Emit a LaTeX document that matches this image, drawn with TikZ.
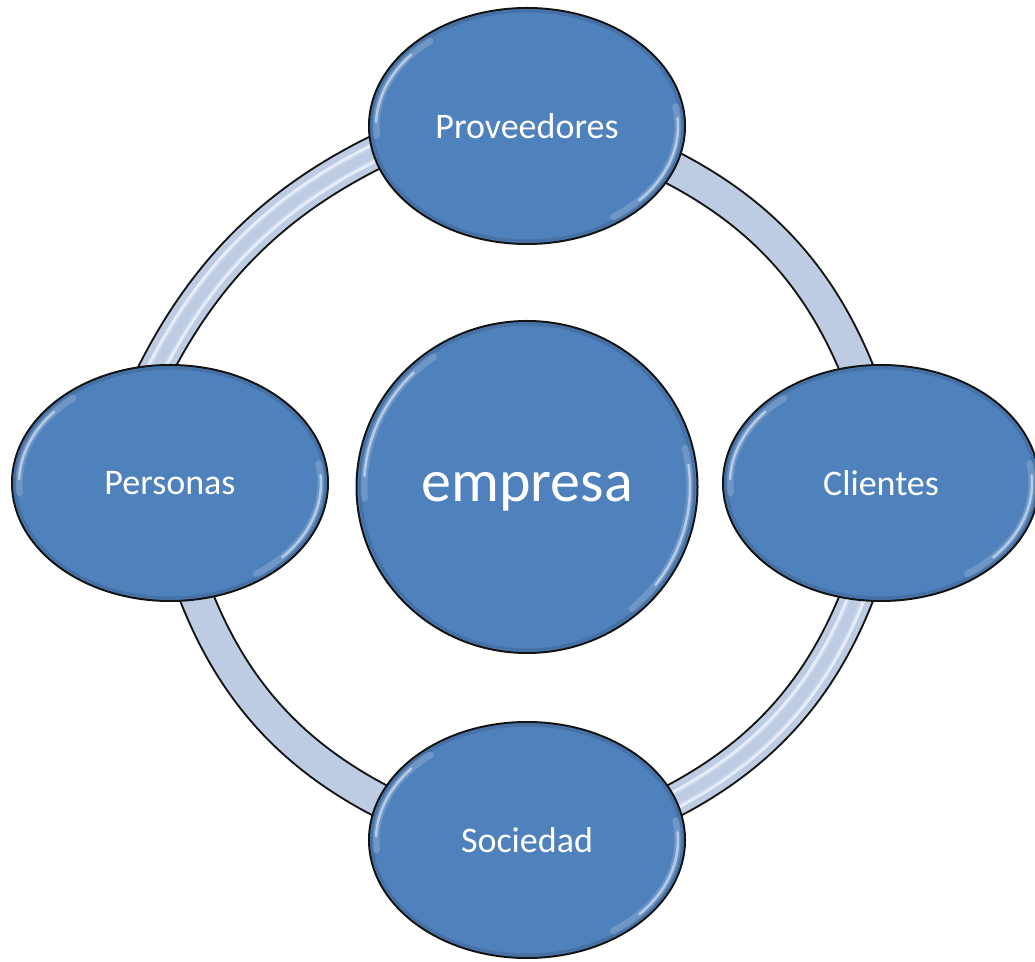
\documentclass[tikz,border=0pt]{standalone}
\usepackage{fontspec}
\setmainfont{Carlito}
\usepackage{tikz}
\usetikzlibrary{shapes.geometric,positioning,backgrounds}

\definecolor{nodeblue}{RGB}{79,129,189}
\definecolor{ringfill}{RGB}{189,203,227}
\definecolor{ringshine}{RGB}{230,237,249}
\definecolor{ringedge}{RGB}{20,20,20}

\tikzset{
  bubble/.style={ellipse, draw=ringedge, line width=2pt, fill=nodeblue, text=white,
    minimum width=316pt, minimum height=236pt, inner sep=0pt, font=\fontsize{36}{40}\selectfont},
  core/.style={bubble, minimum width=341pt, minimum height=332pt,
    font=\fontsize{60}{66}\selectfont, text depth=0pt},
  band/.style={draw=ringedge, line width=35pt, looseness=0.885,
    shorten <=-26pt, shorten >=-26pt,
    postaction={draw=ringfill, line width=31pt, shorten <=-26pt, shorten >=-26pt}},
  tube/.style={band,
    postaction={draw=ringshine, line width=19pt, shorten <=-26pt, shorten >=-26pt},
    postaction={draw=ringfill!70!ringshine, line width=13pt, shorten <=-26pt, shorten >=-26pt},
    postaction={draw=ringfill, line width=9pt, shorten <=-26pt, shorten >=-26pt}},
  glow/.style={draw=white, line width=7pt, opacity=0.18, line cap=round},
  bevel/.style={draw=white, line width=2.5pt, opacity=0.5, line cap=round},
  rim/.style={draw=nodeblue!60!black, line width=3pt, opacity=0.3},
}

\begin{document}
\begin{tikzpicture}[x=1pt, y=1pt]
    \useasboundingbox (0,0) rectangle (1035,961);

    % Centre
    \node[core] (empresa) at (527,474) {empresa};

    % Partners
    \node[bubble] (prov) at (527,835) {Proveedores};
    \node[bubble] (pers) at (170,478) {Personas};
    \node[bubble] (clie) at (881,478) {Clientes};
    \node[bubble] (soci) at (527,121) {Sociedad};

    % Ring
    \begin{scope}[on background layer]
        \draw[tube] (pers.96) to[bend left=20] (prov.190);
        \draw[band] (prov.344) to[bend left=22.5] (clie.102);
        \draw[tube] (clie.258) to[bend left=22.7] (soci.15);
        \draw[band] (soci.165) to[bend left=22.8] (pers.283);
    \end{scope}

    % Highlights
    \foreach \n in {prov,pers,clie,soci} {
        \draw[rim] (\n.center) ellipse [x radius=155, y radius=115];
        \draw[glow] (\n.center) ++(185:151 and 111) arc[start angle=185, end angle=130, x radius=151, y radius=111];
        \draw[bevel] (\n.center) ++(178:151 and 111) arc[start angle=178, end angle=140, x radius=151, y radius=111];
        \draw[glow] (\n.center) ++(10:151 and 111) arc[start angle=10, end angle=-55, x radius=151, y radius=111];
        \draw[bevel] (\n.center) ++(4:151 and 111) arc[start angle=4, end angle=-42, x radius=151, y radius=111];
    }
    \draw[rim] (empresa.center) ellipse [x radius=167, y radius=163];
    \draw[glow] (empresa.center) ++(184:163 and 159) arc[start angle=184, end angle=125, x radius=163, y radius=159];
    \draw[bevel] (empresa.center) ++(176:163 and 159) arc[start angle=176, end angle=134, x radius=163, y radius=159];
    \draw[glow] (empresa.center) ++(14:163 and 159) arc[start angle=14, end angle=-50, x radius=163, y radius=159];
    \draw[bevel] (empresa.center) ++(8:163 and 159) arc[start angle=8, end angle=-38, x radius=163, y radius=159];

\end{tikzpicture}
\end{document}
